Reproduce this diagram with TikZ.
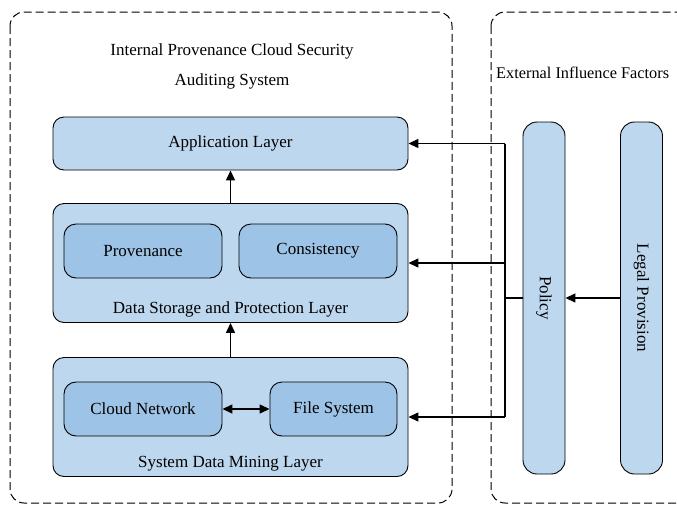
\documentclass[tikz,border=0pt]{standalone}
\usepackage{fontspec}
\setmainfont{Liberation Serif}
\newfontfamily\tnr{Liberation Serif}
\usetikzlibrary{arrows.meta}
\definecolor{layerfill}{HTML}{BDD7EE}
\definecolor{innerfill}{HTML}{9DC3E6}
\newcommand\lowtxt[1]{\raisebox{-2.5pt}{#1}}
\begin{document}
\begin{tikzpicture}[x=1pt,y=-1pt,
  every node/.style={font=\tnr\fontsize{17}{20}\selectfont},
  layer/.style={draw=black, line width=0.9pt, fill=layerfill, rounded corners=11pt, inner sep=0pt},
  inner/.style={draw=black, line width=0.9pt, fill=innerfill, rounded corners=12pt, inner sep=0pt},
  bar/.style={draw=black, line width=0.9pt, fill=layerfill, rounded corners=14pt, inner sep=0pt, minimum width=42pt, minimum height=352pt},
  frame/.style={draw=black, line width=1pt, dash pattern=on 8pt off 4pt, rounded corners=14pt},
  conn/.style={line width=1.4pt, -{Triangle[length=10pt,width=9pt]}},
  plain/.style={line width=1.4pt}
]
\useasboundingbox (0,0) rectangle (677,509);
\clip (0,0) rectangle (677,509);
\draw[frame] (10,12) rectangle (452,503);
\draw[frame] (491,12) rectangle (700,503);

\node (t1) at (232,51) {Internal Provenance Cloud Security};
\node (t2) at (232,81) {Auditing System};
\node[anchor=west, inner sep=0pt, font=\tnr\fontsize{16.3}{19}\selectfont] (ext) at (496,73) {External Influence Factors};

\node[layer, minimum width=355pt, minimum height=53pt] (app) at (230.5,143.5) {\lowtxt{Application Layer}};
\node[layer, minimum width=355pt, minimum height=119pt] (store) at (230.5,263) {};
\node (storelbl) at (230.5,309.5) {Data Storage and Protection Layer};
\node[inner, minimum width=158pt, minimum height=54pt] (prov) at (143,251) {\lowtxt{Provenance}};
\node[inner, minimum width=158pt, minimum height=54pt] (cons) at (318,251) {\lowtxt{Consistency}};

\node[layer, minimum width=355pt, minimum height=119pt] (mine) at (230.5,417) {};
\node (minelbl) at (230.5,463.5) {System Data Mining Layer};
\node[inner, minimum width=158pt, minimum height=54pt] (cloud) at (143,409) {\lowtxt{Cloud Network}};
\node[inner, minimum width=127pt, minimum height=54pt] (fs) at (333.5,409) {\lowtxt{File System}};

\node[bar] (policy) at (544,298) {};
\node[rotate=-90] (policylbl) at (544,298) {Policy};
\node[bar] (legal) at (641.5,298) {};
\node[rotate=-90] (legallbl) at (641.5,298) {Legal Provision};

\coordinate (j) at (505,298);
\coordinate (jt) at (505,143.5);
\coordinate (jm) at (505,263);
\coordinate (jb) at (505,417);

\draw[conn] (store.north) -- (app.south);
\draw[conn] (mine.north) -- (store.south);
\draw[line width=1.4pt, {Triangle[length=10pt,width=9pt]}-{Triangle[length=10pt,width=9pt]}] (cloud.east) -- (fs.west);
\draw[conn] (legal.west) -- (policy.east);
\draw[plain] (policy.west) -- (j);
\draw[plain] (jt) -- (jb);
\draw[conn] (jt) -- (app.east);
\draw[conn] (jm) -- (store.east);
\draw[conn] (jb) -- (mine.east);
\end{tikzpicture}
\end{document}
